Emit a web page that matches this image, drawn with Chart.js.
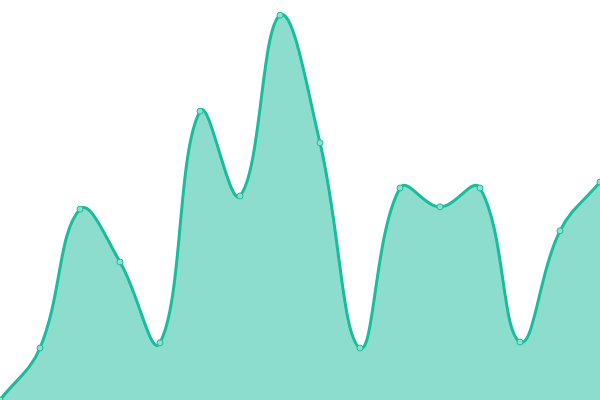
<!DOCTYPE html>
<html>
<head>
<meta charset="utf-8">
<style>
  html, body { margin: 0; padding: 0; background: #fff; }
  #wrap { width: 600px; height: 400px; }
</style>
<script src="https://cdn.jsdelivr.net/npm/chart.js@4"></script>
</head>
<body>
<div id="wrap"><canvas id="chart"></canvas></div>
<script>
// values, scale 0..100
const labels = ['1', '2', '3', '4', '5', '6', '7', '8', '9', '10', '11', '12', '13', '14', '15', '16'];
const values = [0, 13, 47.7, 34.5, 14.3, 72.2, 51, 96.2, 64.3, 13, 53, 48.3, 53, 14.5, 42.3, 54.5];

const ctx = document.getElementById('chart');
new Chart(ctx, {
    type: 'line',
    data: {
        labels: labels,
        datasets: [{
            data: values,
            fill: 'origin',
            backgroundColor: 'rgba(26, 188, 156, 0.5)',
            borderColor: '#1abc9c',
            borderWidth: 3,
            tension: 0.4,
            pointRadius: 3,
            pointBorderWidth: 1,
            pointBackgroundColor: 'rgba(140, 224, 207, 1)',
            pointBorderColor: '#1abc9c'
        }]
    },
    options: {
        responsive: true,
        maintainAspectRatio: false,
        animation: false,
        layout: { padding: 0, autoPadding: false },
        scales: {
            x: { display: false, offset: false },
            y: { display: false, min: 0, max: 100 }
        },
        plugins: {
            legend: { display: false },
            tooltip: { enabled: false }
        }
    }
});
</script>
</body>
</html>
